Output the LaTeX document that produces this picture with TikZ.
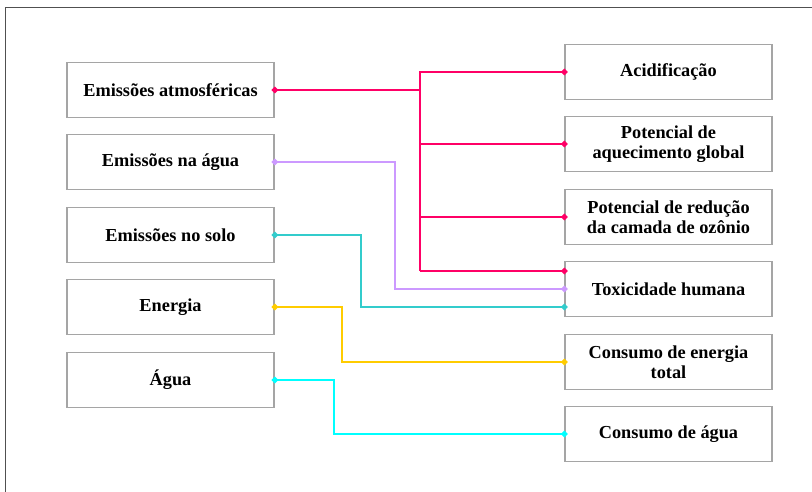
\documentclass[tikz,border=0pt]{standalone}
\usepackage{fontspec}
\setmainfont{Liberation Serif}[BoldFont={Liberation Serif Bold}]
\usetikzlibrary{arrows.meta}
\definecolor{boxgray}{RGB}{165,165,165}
\definecolor{framegray}{RGB}{80,80,80}
\definecolor{lred}{RGB}{255,0,102}
\definecolor{lpur}{RGB}{204,153,255}
\definecolor{lteal}{RGB}{51,204,204}
\definecolor{lyel}{RGB}{255,204,0}
\definecolor{lcyan}{RGB}{0,255,255}
\begin{document}
\begin{tikzpicture}[x=1pt,y=-1pt,
   box/.style={draw=boxgray,line width=1.5pt,minimum width=207pt,minimum height=55pt,
      align=center,inner sep=2pt,font=\fontsize{18.3}{20}\selectfont\bfseries},
   link/.style={line width=2pt,line join=miter},
   endl/.style={{Diamond[length=7pt,width=7pt]}-,shorten <=-3.5pt},
   endr/.style={-{Diamond[length=7pt,width=7pt]},shorten >=-3.5pt},
   ends/.style={{Diamond[length=7pt,width=7pt]}-{Diamond[length=7pt,width=7pt]},
      shorten <=-3.5pt,shorten >=-3.5pt}]
   \useasboundingbox (0,0) rectangle (812,492);
   \draw[framegray,line width=1.5pt] (5.5,492) -- (5.5,7.5) -- (812,7.5);

   % inputs
   \node[box] (e1) at (170.5,90) {Emissões atmosféricas};
   \node[box] (e2) at (170.5,162) {Emissões na água};
   \node[box] (e3) at (170.5,235) {Emissões no solo};
   \node[box] (e4) at (170.5,307) {Energia};
   \node[box] (e5) at (170.5,380) {Água};

   % categories
   \node[box] (r1) at (668.5,72) {Acidificação};
   \node[box] (r2) at (668.5,144) {Potencial de\\aquecimento global};
   \node[box] (r3) at (668.5,217) {Potencial de redução\\da camada de ozônio};
   \node[box] (r4) at (668.5,289) {Toxicidade humana};
   \node[box] (r5) at (668.5,362) {Consumo de energia\\total};
   \node[box] (r6) at (668.5,434) {Consumo de água};

   \coordinate (rt) at (420,0);
   \coordinate (t1) at ([yshift=18pt]r4.west);
   \coordinate (t3) at ([yshift=-18pt]r4.west);

   \draw[link,lred,endl] (e1.east) -- (e1.east -| rt);
   \draw[link,lred,endr] (t1 -| rt) |- (r1.west);
   \draw[link,lred,endr] (rt |- r2.west) -- (r2.west);
   \draw[link,lred,endr] (rt |- r3.west) -- (r3.west);
   \draw[link,lred,endr] (t1 -| rt) -- (t1);

   \draw[link,lpur,ends] (e2.east) -- ++(120,0) |- (r4.west);
   \draw[link,lteal,ends] (e3.east) -- ++(86,0) |- (t3);
   \draw[link,lyel,ends] (e4.east) -- ++(67,0) |- (r5.west);
   \draw[link,lcyan,ends] (e5.east) -- ++(59,0) |- (r6.west);
\end{tikzpicture}
\end{document}
